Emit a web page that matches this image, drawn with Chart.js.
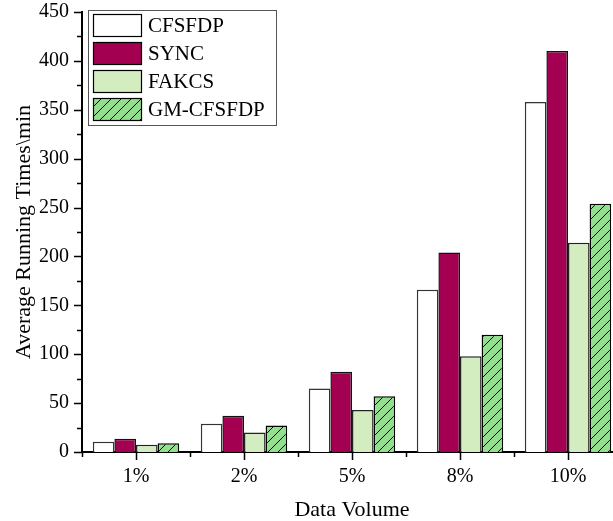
<!DOCTYPE html>
<html>
<head>
<meta charset="utf-8">
<script src="https://cdn.jsdelivr.net/npm/chart.js@4"></script>
<style>
  html, body { margin: 0; padding: 0; background: #fff; overflow: hidden; }
  #wrap { width: 640px; height: 521px; }
</style>
</head>
<body>
<div id="wrap"><canvas id="chart"></canvas></div>
<script>
const categories = ['1%', '2%', '5%', '8%', '10%'];
const seriesNames = ['CFSFDP', 'SYNC', 'FAKCS', 'GM-CFSFDP'];
const cfsfdp = [10.5, 29, 65, 166, 358];
const sync = [13.5, 37, 82, 204, 410];
const fakcs = [7.5, 20, 43, 98, 214];
const gmCfsfdp = [9, 27, 57, 120, 254];
const yTicks = [0, 50, 100, 150, 200, 250, 300, 350, 400, 450];

const FONT = 'Liberation Serif';

// diagonal hatch for GM-CFSFDP
function hatch(bg) {
    const c = document.createElement('canvas');
    c.width = 10; c.height = 10;
    const g = c.getContext('2d');
    g.fillStyle = bg;
    g.fillRect(0, 0, 10, 10);
    g.strokeStyle = '#000';
    g.lineWidth = 1;
    g.beginPath();
    g.moveTo(-1, 11); g.lineTo(11, -1);
    g.moveTo(-6, 6); g.lineTo(6, -6);
    g.moveTo(4, 16); g.lineTo(16, 4);
    g.stroke();
    return g.createPattern(c, 'repeat');
}

const fills = ['#ffffff', '#a30052', '#d3ecc0', hatch('#94df8f')];
const borders = ['#333333', '#111111', '#222222', '#000000'];
const values = [cfsfdp, sync, fakcs, gmCfsfdp];

// ticks on both axes (major + minor), drawn from the scales
const axisTicks = {
    id: 'axisTicks',
    afterDraw(chart) {
        const ctx = chart.ctx;
        const x = chart.scales.x, y = chart.scales.y;
        const a = chart.chartArea;
        ctx.save();
        ctx.strokeStyle = '#000';
        ctx.lineWidth = 1.5;
        ctx.beginPath();
        for (let v = 0; v <= 450; v += 25) {
            const py = Math.round(y.getPixelForValue(v)) + 0.5;
            const len = v % 50 === 0 ? 8 : 5;
            ctx.moveTo(a.left, py); ctx.lineTo(a.left - len, py);
        }
        for (let i = 0; i < categories.length; i++) {
            const px = Math.round(x.getPixelForValue(i)) + 0.5;
            ctx.moveTo(px, a.bottom); ctx.lineTo(px, a.bottom + 8);
            const bx = Math.round(x.getPixelForValue(i - 0.5)) + 0.5;
            ctx.moveTo(bx, a.bottom); ctx.lineTo(bx, a.bottom + 5);
        }
        ctx.stroke();
        ctx.restore();
    }
};

// boxed legend in top-left corner
const boxLegend = {
    id: 'boxLegend',
    afterDraw(chart) {
        const ctx = chart.ctx;
        const bx = 88.5, by = 10.5, bw = 188, bh = 115;
        ctx.save();
        ctx.fillStyle = '#fff';
        ctx.fillRect(bx, by, bw, bh);
        ctx.strokeStyle = '#555';
        ctx.lineWidth = 1;
        ctx.strokeRect(bx, by, bw, bh);
        ctx.font = '21px ' + FONT;
        ctx.textBaseline = 'middle';
        chart.data.datasets.forEach((ds, i) => {
            const sy = 14 + i * 28;
            ctx.fillStyle = ds.backgroundColor;
            ctx.fillRect(93, sy, 49, 23);
            ctx.strokeStyle = '#000';
            ctx.lineWidth = 1.2;
            ctx.strokeRect(93.5, sy + 0.5, 48, 22);
            ctx.fillStyle = '#000';
            ctx.fillText(ds.label, 148, sy + 12);
        });
        ctx.restore();
    }
};

new Chart(document.getElementById('chart'), {
    type: 'bar',
    data: {
        labels: categories,
        datasets: seriesNames.map((name, i) => ({
            label: name,
            data: values[i],
            backgroundColor: fills[i],
            borderColor: borders[i],
            borderWidth: 1.5,
            borderSkipped: 'bottom'
        }))
    },
    options: {
        responsive: true,
        maintainAspectRatio: false,
        animation: false,
        layout: { padding: { top: 12, right: 18, left: 0, bottom: 0 } },
        datasets: { bar: { categoryPercentage: 0.8, barPercentage: 1.0 } },
        plugins: {
            legend: { display: false },
            tooltip: { enabled: false }
        },
        scales: {
            x: {
                grid: { display: false, drawTicks: false },
                border: { display: true, color: '#000', width: 2 },
                ticks: { color: '#000', padding: 13, font: { family: FONT, size: 20 } },
                title: {
                    display: true, text: 'Data Volume', color: '#000',
                    font: { family: FONT, size: 22, lineHeight: 1 }, padding: { top: 0, bottom: 0 }
                },
                afterFit(s) { s.height = 69; s.paddingLeft = 0; s.paddingRight = 0; }
            },
            y: {
                min: 0, max: 450,
                afterBuildTicks(s) { s.ticks = yTicks.map(v => ({ value: v })); },
                grid: { display: false, drawTicks: false },
                border: { display: true, color: '#000', width: 2 },
                ticks: { color: '#000', padding: 13, font: { family: FONT, size: 20 } },
                title: {
                    display: true, text: 'Average Running Times\\min', color: '#000',
                    font: { family: FONT, size: 22, lineHeight: 1 }, padding: { top: 13, bottom: 0 }
                },
                afterFit(s) { s.width = 82; s.paddingTop = 0; s.paddingBottom = 0; }
            }
        }
    },
    plugins: [axisTicks, boxLegend]
});
</script>
</body>
</html>
